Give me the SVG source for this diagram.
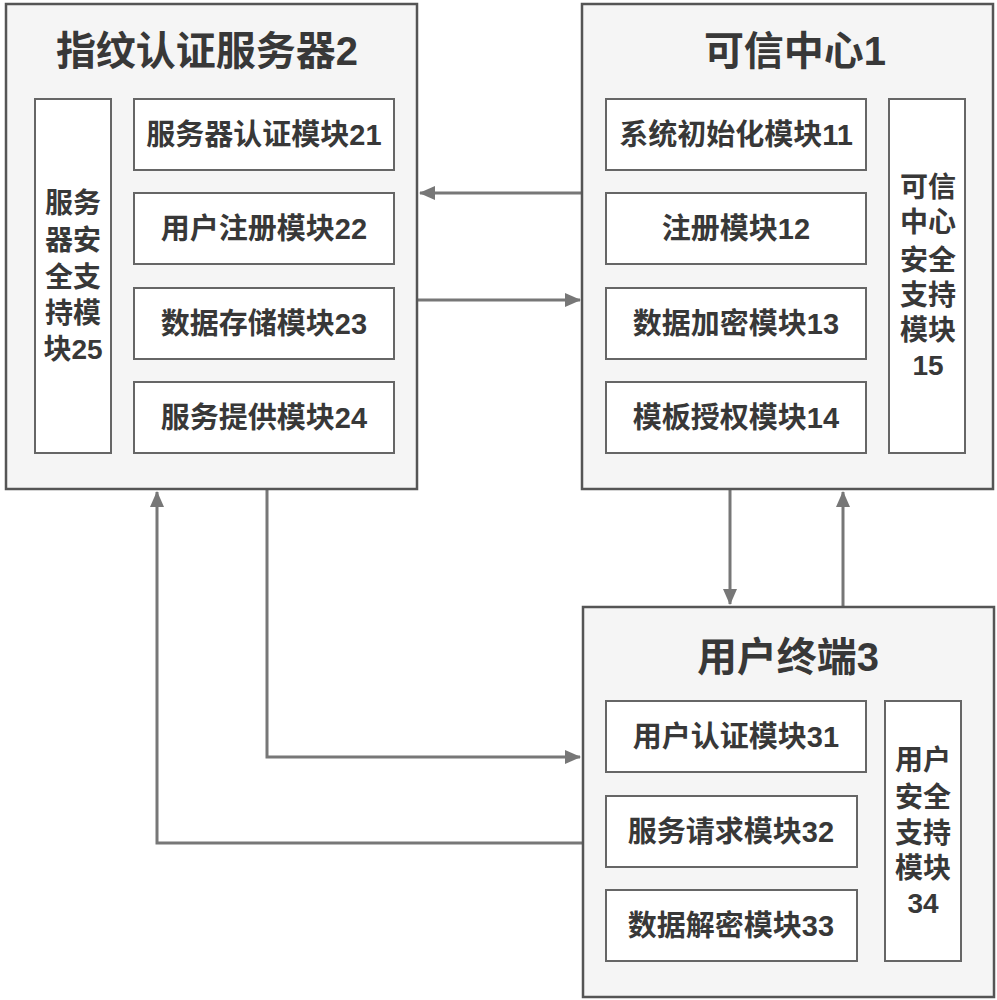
<svg xmlns="http://www.w3.org/2000/svg" width="997" height="1000" viewBox="0 0 997 1000">
<style>
.outer{fill:#f5f5f5;stroke:#555;stroke-width:2.5}
.mod{fill:#fff;stroke:#666;stroke-width:2}
.t{font-family:"Liberation Sans","Noto Sans CJK SC",sans-serif;font-weight:bold;fill:#383838;text-anchor:middle}
.title{font-size:40px}
.m{font-size:29px}
.v{font-size:28px}
.conn{fill:none;stroke:#777;stroke-width:3}
</style>
<defs>
<marker id="ah" markerWidth="16" markerHeight="14" refX="15" refY="7" orient="auto" markerUnits="userSpaceOnUse">
<path d="M0,0 L16,7 L0,14 Z" fill="#777"/>
</marker>
</defs>
<rect width="997" height="1000" fill="#fff"/>
<g id="connectors">
<line class="conn" x1="582" y1="193" x2="420" y2="193" marker-end="url(#ah)"/>
<line class="conn" x1="418" y1="300" x2="580" y2="300" marker-end="url(#ah)"/>
<line class="conn" x1="730" y1="489" x2="730" y2="604" marker-end="url(#ah)"/>
<line class="conn" x1="843" y1="607" x2="843" y2="492" marker-end="url(#ah)"/>
<polyline class="conn" points="267,489 267,757 580,757" marker-end="url(#ah)"/>
<polyline class="conn" points="583,843 157,843 157,492" marker-end="url(#ah)"/>
</g>
<g id="server2">
<rect class="outer" x="6" y="4" width="411" height="485"/>
<text class="t title" x="207" y="65">指纹认证服务器2</text>
<g id="m25"><rect class="mod" x="35" y="99" width="76" height="354"/>
<text class="t v"><tspan x="73" y="213">服务</tspan><tspan x="73" y="250">器安</tspan><tspan x="73" y="287">全支</tspan><tspan x="73" y="323">持模</tspan><tspan x="73" y="359">块25</tspan></text></g>
<g id="m21"><rect class="mod" x="134" y="99" width="260" height="71"/><text class="t m" x="264" y="145">服务器认证模块21</text></g>
<g id="m22"><rect class="mod" x="134" y="193" width="260" height="71"/><text class="t m" x="264" y="239">用户注册模块22</text></g>
<g id="m23"><rect class="mod" x="134" y="288" width="260" height="71"/><text class="t m" x="264" y="334">数据存储模块23</text></g>
<g id="m24"><rect class="mod" x="134" y="382" width="260" height="71"/><text class="t m" x="264" y="428">服务提供模块24</text></g>
</g>
<g id="center1">
<rect class="outer" x="582" y="4" width="411" height="485"/>
<text class="t title" x="795" y="65">可信中心1</text>
<g id="m11"><rect class="mod" x="606" y="99" width="260" height="71"/><text class="t m" x="736" y="145">系统初始化模块11</text></g>
<g id="m12"><rect class="mod" x="606" y="193" width="260" height="71"/><text class="t m" x="736" y="239">注册模块12</text></g>
<g id="m13"><rect class="mod" x="606" y="288" width="260" height="71"/><text class="t m" x="736" y="334">数据加密模块13</text></g>
<g id="m14"><rect class="mod" x="606" y="382" width="260" height="71"/><text class="t m" x="736" y="428">模板授权模块14</text></g>
<g id="m15"><rect class="mod" x="889" y="99" width="76" height="354"/>
<text class="t v"><tspan x="928" y="197">可信</tspan><tspan x="928" y="232">中心</tspan><tspan x="928" y="270">安全</tspan><tspan x="928" y="305">支持</tspan><tspan x="928" y="340">模块</tspan><tspan x="928" y="375">15</tspan></text></g>
</g>
<g id="terminal3">
<rect class="outer" x="583" y="607" width="411" height="390"/>
<text class="t title" x="788" y="671">用户终端3</text>
<g id="m31"><rect class="mod" x="606" y="701" width="260" height="71"/><text class="t m" x="736" y="747">用户认证模块31</text></g>
<g id="m32"><rect class="mod" x="606" y="796" width="251" height="71"/><text class="t m" x="731" y="842">服务请求模块32</text></g>
<g id="m33"><rect class="mod" x="606" y="890" width="251" height="71"/><text class="t m" x="731" y="936">数据解密模块33</text></g>
<g id="m34"><rect class="mod" x="885" y="701" width="76" height="260"/>
<text class="t v"><tspan x="923" y="770">用户</tspan><tspan x="923" y="807">安全</tspan><tspan x="923" y="843">支持</tspan><tspan x="923" y="878">模块</tspan><tspan x="923" y="913">34</tspan></text></g>
</g>
</svg>
